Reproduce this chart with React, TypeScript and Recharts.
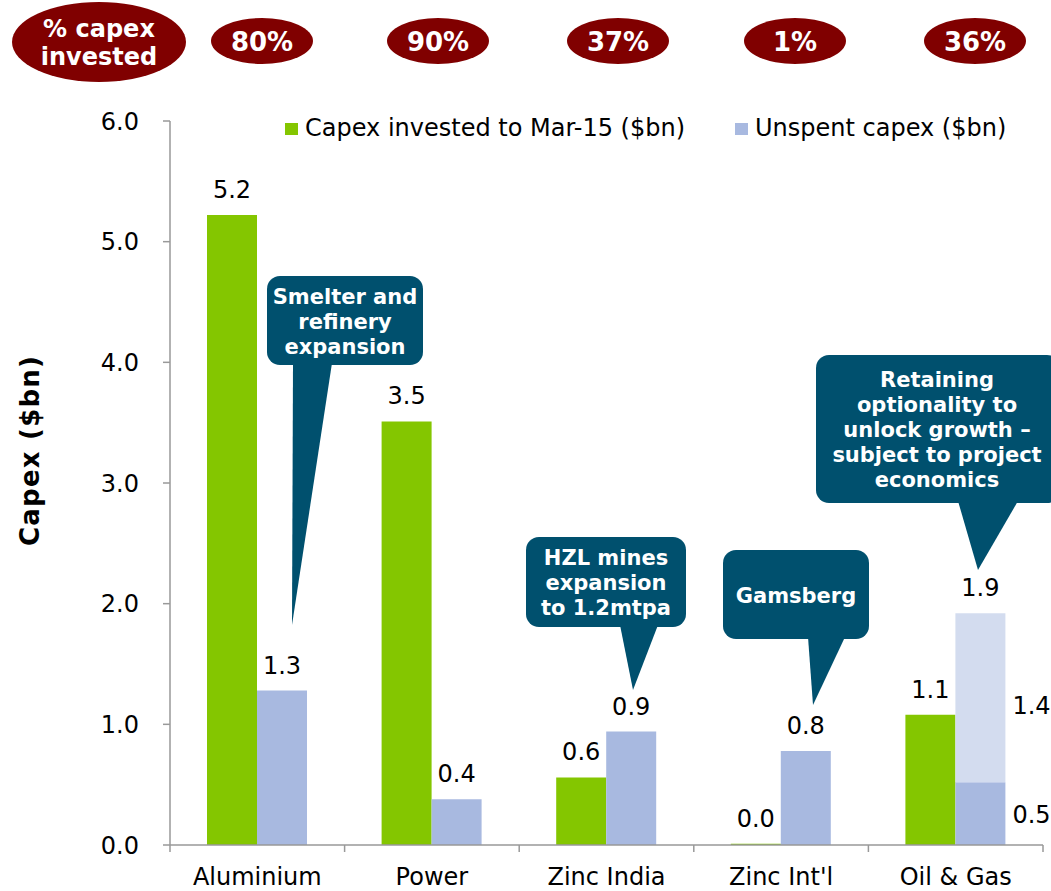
import { BarChart, Bar, XAxis, YAxis, LabelList } from "recharts";

const categories = ["Aluminium", "Power", "Zinc India", "Zinc Int'l", "Oil & Gas"];
const invested = [5.22, 3.51, 0.56, 0.01, 1.08];
// unspent capex; Oil & Gas is split into committed part and optional part
const unspent = [1.28, 0.38, 0.94, 0.78, 0];
const unspentBase = [0, 0, 0, 0, 0.52];
const unspentOptional = [0, 0, 0, 0, 1.4];
const pctInvested = ["80%", "90%", "37%", "1%", "36%"];
const yTicks = [0, 1, 2, 3, 4, 5, 6];

const GREEN = "#84C600";
const BLUE = "#A8B9E0";
const LIGHT_BLUE = "#D3DCEF";
const TEAL = "#00506E";
const MAROON = "#800000";
const AXIS = "#999999";
const FONT = "'DejaVu Sans', Verdana, sans-serif";

const W = 1051;
const H = 891;
const MARGIN = { top: 121, right: 8, bottom: 6, left: 110 };
const Y_AXIS_W = 60;
const BAND = (W - MARGIN.left - MARGIN.right - Y_AXIS_W) / categories.length;

const data = categories.map((name, i) => ({
  name,
  invested: invested[i],
  unspent: unspent[i],
  base: unspentBase[i],
  optional: unspentOptional[i],
}));

// callouts: box + pointer, in page pixels
const callouts = [
  { lines: ["Smelter and", "refinery", "expansion"], box: [267, 276, 156, 89], base: [293, 332], tip: [292, 625] },
  { lines: ["HZL mines", "expansion", "to 1.2mtpa"], box: [526, 537, 160, 90], base: [620, 658], tip: [633, 690] },
  { lines: ["Gamsberg"], box: [723, 550, 146, 89], base: [808, 845], tip: [813, 705] },
  {
    lines: ["Retaining", "optionality to", "unlock growth \u2013", "subject to project", "economics"],
    box: [816, 355, 244, 148],
    base: [958, 1018],
    tip: [978, 570],
  },
];

const bubbleX = [262, 438, 618, 795, 975];

const fmt = (v: number) => Number(v).toFixed(1);

function XTick(props: any) {
  const { x, y, payload, index } = props;
  return (
    <g>
      <line x1={x - BAND / 2} x2={x - BAND / 2} y1={y} y2={y + 7} stroke={AXIS} strokeWidth={1.5} />
      {index === categories.length - 1 && (
        <line x1={x + BAND / 2} x2={x + BAND / 2} y1={y} y2={y + 7} stroke={AXIS} strokeWidth={1.5} />
      )}
      <text x={x} y={y + 40} textAnchor="middle" fontSize={24} fontFamily={FONT} fill="#000">
        {payload.value}
      </text>
    </g>
  );
}

function topLabel(props: any) {
  const { x, y, width, value } = props;
  if (!(value > 0)) return null;
  return (
    <text x={x + width / 2} y={y - 17} textAnchor="middle" fontSize={24} fontFamily={FONT} fill="#000">
      {fmt(value)}
    </text>
  );
}

function baseLabel(props: any) {
  const { x, y, width, height, value } = props;
  if (!(value > 0)) return null;
  return (
    <text x={x + width + 7} y={y + height / 2 + 9} fontSize={24} fontFamily={FONT} fill="#000">
      {fmt(value)}
    </text>
  );
}

function optionalLabel(props: any) {
  const { x, y, width, height, value } = props;
  if (!(value > 0)) return null;
  const i = unspentOptional.indexOf(value);
  const total = unspentBase[i] + unspentOptional[i];
  return (
    <g>
      <text x={x + width + 7} y={y + height / 2 + 16} fontSize={24} fontFamily={FONT} fill="#000">
        {fmt(value)}
      </text>
      <text x={x + width / 2} y={y - 17} textAnchor="middle" fontSize={24} fontFamily={FONT} fill="#000">
        {fmt(total)}
      </text>
    </g>
  );
}

function Overlay() {
  return (
    <svg width={W} height={H} style={{ position: "absolute", left: 0, top: 0, pointerEvents: "none" }}>
      {/* % capex invested bubbles */}
      <ellipse cx={99} cy={42} rx={87} ry={40} fill={MAROON} />
      <text x={99} y={37} textAnchor="middle" fontSize={24} fontWeight="bold" fontFamily={FONT} fill="#fff">
        % capex
      </text>
      <text x={99} y={65} textAnchor="middle" fontSize={24} fontWeight="bold" fontFamily={FONT} fill="#fff">
        invested
      </text>
      {pctInvested.map((p, i) => (
        <g key={p + i}>
          <ellipse cx={bubbleX[i]} cy={41} rx={51} ry={23} fill={MAROON} />
          <text x={bubbleX[i]} y={51} textAnchor="middle" fontSize={26} fontWeight="bold" fontFamily={FONT} fill="#fff">
            {p}
          </text>
        </g>
      ))}

      {/* legend */}
      <rect x={285} y={123} width={13} height={12} fill={GREEN} />
      <text x={305} y={136} fontSize={24} fontFamily={FONT} fill="#000">
        Capex invested to Mar-15 ($bn)
      </text>
      <rect x={735} y={123} width={13} height={12} fill={BLUE} />
      <text x={755} y={136} fontSize={24} fontFamily={FONT} fill="#000">
        Unspent capex ($bn)
      </text>

      {/* y axis title */}
      <text
        x={30}
        y={451}
        transform="rotate(-90 30 451)"
        textAnchor="middle"
        dominantBaseline="central"
        fontSize={26}
        fontWeight="bold"
        fontFamily={FONT}
        fill="#000"
        textLength={190}
        lengthAdjust="spacing"
      >
        Capex ($bn)
      </text>

      {/* callouts */}
      {callouts.map((c, i) => {
        const [bx, by, bw, bh] = c.box;
        const cx = Math.min(bx + bw / 2, 937);
        const lh = 25;
        const first = by + bh / 2 - ((c.lines.length - 1) * lh) / 2 + 8;
        return (
          <g key={i}>
            <rect x={bx} y={by} width={bw} height={bh} rx={13} fill={TEAL} />
            <polygon
              points={`${c.base[0]},${by + bh - 2} ${c.base[1]},${by + bh - 2} ${c.tip[0]},${c.tip[1]}`}
              fill={TEAL}
            />
            {c.lines.map((l, j) => (
              <text
                key={j}
                x={cx}
                y={first + j * lh}
                textAnchor="middle"
                fontSize={21}
                fontWeight="bold"
                fontFamily={FONT}
                fill="#fff"
              >
                {l}
              </text>
            ))}
          </g>
        );
      })}
    </svg>
  );
}

export default function App() {
  return (
    <div style={{ position: "absolute", left: 0, top: 0, width: W, height: H, background: "#fff" }}>
      <BarChart width={W} height={H} data={data} margin={MARGIN} barSize={50} barGap={0}>
        <XAxis
          dataKey="name"
          height={40}
          tick={<XTick />}
          tickLine={false}
          tickSize={0}
          tickMargin={0}
          interval={0}
          axisLine={{ stroke: AXIS, strokeWidth: 1.5 }}
        />
        <YAxis
          width={Y_AXIS_W}
          domain={[0, 6]}
          ticks={yTicks}
          tickFormatter={fmt}
          tickSize={7}
          tickMargin={24}
          tick={{ fontSize: 24, fill: "#000", fontFamily: FONT }}
          tickLine={{ stroke: AXIS, strokeWidth: 1.5 }}
          axisLine={{ stroke: AXIS, strokeWidth: 1.5 }}
          allowDataOverflow
        />
        <Bar dataKey="invested" stackId="g" fill={GREEN} isAnimationActive={false}>
          <LabelList dataKey="invested" content={topLabel} />
        </Bar>
        <Bar dataKey="unspent" stackId="u" fill={BLUE} isAnimationActive={false}>
          <LabelList dataKey="unspent" content={topLabel} />
        </Bar>
        <Bar dataKey="base" stackId="u" fill={BLUE} isAnimationActive={false}>
          <LabelList dataKey="base" content={baseLabel} />
        </Bar>
        <Bar dataKey="optional" stackId="u" fill={LIGHT_BLUE} isAnimationActive={false}>
          <LabelList dataKey="optional" content={optionalLabel} />
        </Bar>
      </BarChart>
      <Overlay />
    </div>
  );
}
